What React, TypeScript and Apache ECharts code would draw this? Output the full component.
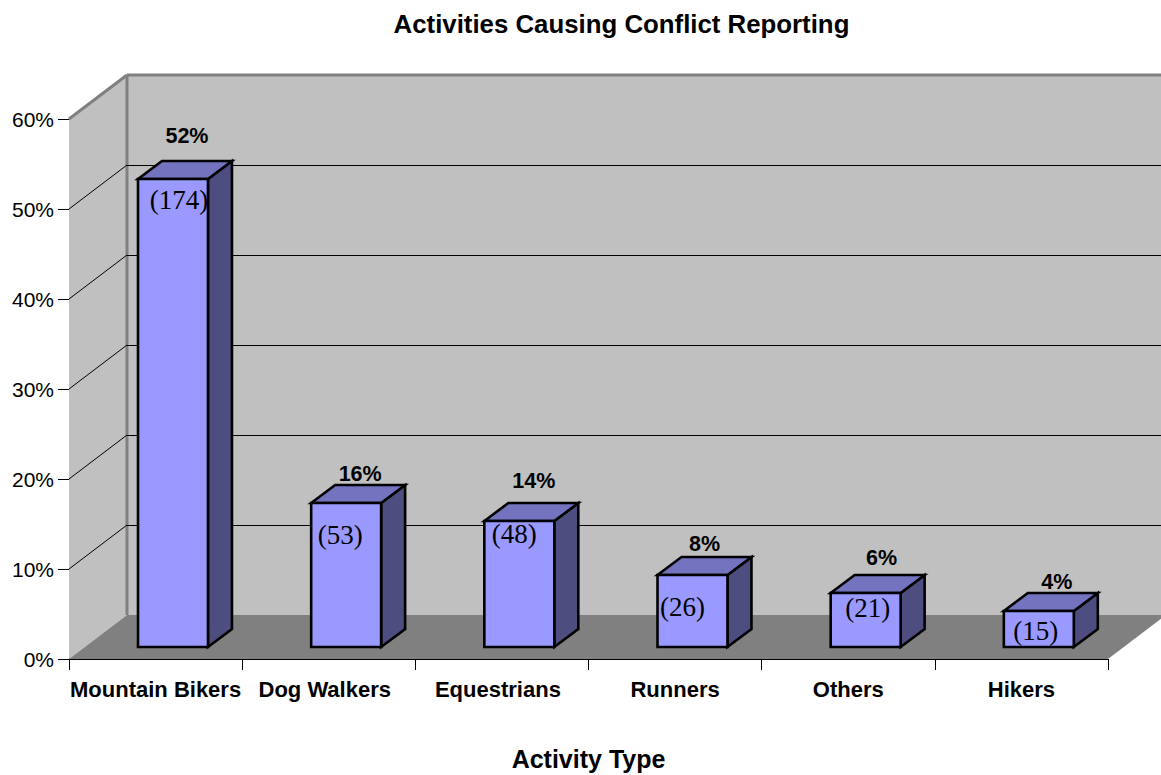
import React, { useEffect, useRef } from "react";
import * as echarts from "echarts";

const chartTitle = "Activities Causing Conflict Reporting";
const axisTitle = "Activity Type";
const categories = ["Mountain Bikers", "Dog Walkers", "Equestrians", "Runners", "Others", "Hikers"];
const percentages = [52, 16, 14, 8, 6, 4];
const counts = [174, 53, 48, 26, 21, 15];
const wallGridValues = [10, 20, 30, 40, 50];

// Nudges of each bar's two labels, in pixels, relative to the drawn box.
const percentNudgeX = [14, 14, 14.5, 12, 16, 18];
const percentLift = [25, 11, 22, 13, 17, 11];
const countNudgeX = [6, -6, -5, -10, 2, -3];
const countDrop = [21, 32, 13, 32, 15, 20];
// Right padding of the category labels; it pulls a label left by half its value.
const categoryPadRight = [0, 8, 8, 0, 0, 0];

const SANS = '"Liberation Sans", Arial, sans-serif';
const SERIF = '"Liberation Serif", "Times New Roman", serif';

// Oblique projection of the chart box.
const WALL_DX = 58;
const WALL_DY = -44;
const BAR_DX = 24;
const BAR_DY = -18;
const BAR_SHIFT_X = 17.4;
const BAR_SHIFT_Y = -12;
const BAR_WIDTH_RATIO = 0.404;

const WALL = "#C0C0C0";
const FLOOR = "#808080";
const EDGE = "#808080";
const FRONT = "#9999FF";
const TOP = "#7373BF";
const SIDE = "#4D4D80";

function renderBox(params: any) {
  const { x, y, width, height } = params.coordSys;
  const bottom = y + height;
  const right = x + width;
  const poly = (points: number[][], fill: string) => ({
    type: "polygon",
    shape: { points },
    style: { fill, stroke: null },
  });
  const edge = (x1: number, y1: number, x2: number, y2: number) => ({
    type: "line",
    shape: { x1, y1, x2, y2 },
    style: { stroke: EDGE, lineWidth: 3, lineCap: "butt" },
  });
  return {
    type: "group",
    children: [
      poly(
        [[x + WALL_DX, y + WALL_DY], [right + WALL_DX, y + WALL_DY], [right + WALL_DX, bottom + WALL_DY], [x + WALL_DX, bottom + WALL_DY]],
        WALL,
      ),
      poly([[x, y], [x + WALL_DX, y + WALL_DY], [x + WALL_DX, bottom + WALL_DY], [x, bottom]], WALL),
      poly([[x, bottom], [x + WALL_DX, bottom + WALL_DY], [right + WALL_DX, bottom + WALL_DY], [right, bottom]], FLOOR),
      edge(x + WALL_DX, y + WALL_DY, right + WALL_DX, y + WALL_DY),
      edge(x + WALL_DX, y + WALL_DY, x + WALL_DX, bottom + WALL_DY),
      edge(x, y, x + WALL_DX, y + WALL_DY),
    ],
  };
}

function renderWallGrid(params: any, api: any) {
  const { x, width } = params.coordSys;
  const py = api.coord([0, api.value(0)])[1];
  const line = (x1: number, y1: number, x2: number, y2: number) => ({
    type: "line",
    shape: { x1, y1, x2, y2 },
    style: { stroke: "#000", lineWidth: 1 },
  });
  return {
    type: "group",
    children: [
      line(x, py, x + WALL_DX, py + WALL_DY),
      line(x + WALL_DX, py + WALL_DY + 0.5, x + width + WALL_DX, py + WALL_DY + 0.5),
    ],
  };
}

function renderBar(params: any, api: any) {
  const i = params.dataIndex;
  const band = api.size([1, 0])[0];
  const top = api.coord([i, api.value(1)]);
  const base = api.coord([i, 0]);
  const w = band * BAR_WIDTH_RATIO;
  const l = top[0] + BAR_SHIFT_X - w / 2;
  const r = l + w;
  const t = top[1] + BAR_SHIFT_Y;
  const b = base[1] + BAR_SHIFT_Y;
  const stroke = { stroke: "#000", lineWidth: 2.6, lineJoin: "miter" };
  const cx = (l + r) / 2;
  return {
    type: "group",
    children: [
      {
        type: "polygon",
        shape: { points: [[r, t], [r + BAR_DX, t + BAR_DY], [r + BAR_DX, b + BAR_DY], [r, b]] },
        style: { fill: SIDE, ...stroke },
      },
      {
        type: "polygon",
        shape: { points: [[l, t], [l + BAR_DX, t + BAR_DY], [r + BAR_DX, t + BAR_DY], [r, t]] },
        style: { fill: TOP, ...stroke },
      },
      {
        type: "rect",
        shape: { x: l, y: t, width: w, height: b - t },
        style: { fill: FRONT, ...stroke },
      },
      {
        type: "text",
        style: {
          text: `${percentages[i]}%`,
          x: cx + percentNudgeX[i],
          y: t + BAR_DY - percentLift[i],
          align: "center",
          verticalAlign: "middle",
          font: `bold 21.5px ${SANS}`,
          fill: "#000",
        },
      },
      {
        type: "text",
        style: {
          text: `(${counts[i]})`,
          x: cx + countNudgeX[i],
          y: t + countDrop[i],
          align: "center",
          verticalAlign: "middle",
          font: `27px ${SERIF}`,
          fill: "#000",
        },
      },
    ],
  };
}

export default function App() {
  const ref = useRef<HTMLDivElement>(null);

  useEffect(() => {
    const chart = echarts.init(ref.current!, null, { renderer: "svg" });
    chart.setOption({
      animation: false,
      backgroundColor: "#fff",
      title: {
        text: chartTitle,
        left: 616.5,
        top: 6,
        textAlign: "center",
        textStyle: { fontFamily: SANS, fontWeight: "bold", fontSize: 25.8, color: "#000" },
      },
      grid: { left: 69, right: 53, top: 119, bottom: 116, outerBoundsMode: "none" },
      xAxis: {
        type: "category",
        data: categories.map((value, i) => ({
          value,
          textStyle: { padding: [0, categoryPadRight[i], 0, 0] },
        })),
        name: axisTitle,
        nameLocation: "middle",
        nameGap: 87,
        nameTextStyle: { fontFamily: SANS, fontWeight: "bold", fontSize: 25, color: "#000" },
        axisLine: { lineStyle: { color: "#000", width: 1 } },
        axisTick: { show: true, length: 11, lineStyle: { color: "#000", width: 1 } },
        axisLabel: {
          interval: 0,
          margin: 19,
          fontFamily: SANS,
          fontWeight: "bold",
          fontSize: 22,
          color: "#000",
        },
      },
      yAxis: {
        type: "value",
        min: 0,
        max: 60,
        interval: 10,
        axisLine: { show: true, lineStyle: { color: "#000", width: 1 } },
        axisTick: { show: true, length: 11, lineStyle: { color: "#000", width: 1 } },
        splitLine: { show: false },
        axisLabel: {
          formatter: "{value}%",
          margin: 15,
          fontFamily: SANS,
          fontSize: 21,
          color: "#000",
        },
      },
      series: [
        { type: "custom", clip: false, z: 1, silent: true, renderItem: renderBox, data: [[0]] },
        { type: "custom", clip: false, z: 2, silent: true, renderItem: renderWallGrid, data: wallGridValues.map((v) => [v]) },
        {
          type: "custom",
          clip: false,
          z: 3,
          silent: true,
          renderItem: renderBar,
          encode: { x: 0, y: 1 },
          data: percentages.map((p, i) => [i, p]),
        },
      ],
    });
    return () => chart.dispose();
  }, []);

  return <div ref={ref} style={{ position: "fixed", left: 0, top: 0, width: 1161, height: 775 }} />;
}
